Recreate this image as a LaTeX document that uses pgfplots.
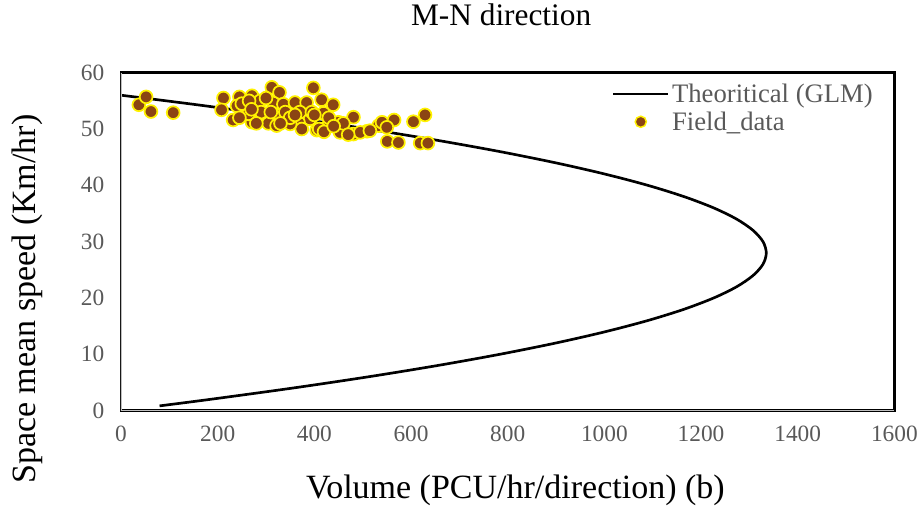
\documentclass[border=0pt]{standalone}
\usepackage{fontspec}
\setmainfont{Liberation Serif}
\usepackage{pgfplots}
\pgfplotsset{compat=1.18}
\definecolor{tickgray}{HTML}{595959}
\definecolor{brownpt}{HTML}{8B4513}
\begin{document}
\begin{tikzpicture}
\begin{axis}[
  scale only axis,
  width=580pt, height=253.5pt,
  xmin=0, xmax=1600, ymin=0, ymax=60,
  xtick={0,200,...,1600}, ytick={0,10,...,60},
  major tick length=0pt,
  /pgf/number format/assume math mode=true,
  /pgf/number format/1000 sep={},
  tick label style={font=\fontsize{17.5}{21}\selectfont, text=tickgray},
  xticklabel style={yshift=-8pt},
  yticklabel style={xshift=-9pt},
  axis line style={black, line width=2.2pt},
  title={M-N direction},
  title style={font=\fontsize{23.5}{27}\selectfont, at={(axis description cs:0.4916,1.148)}, anchor=center},
  xlabel={Volume (PCU/hr/direction) (b)},
  ylabel={Space mean speed (Km/hr)},
  xlabel style={font=\fontsize{25.5}{30}\selectfont, at={(axis description cs:0.51,-0.237)}, anchor=center},
  ylabel style={font=\fontsize{25.5}{30}\selectfont, at={(axis description cs:-0.1216,0.33)}, anchor=center},
  legend style={draw=none, fill=none, at={(axis description cs:0.633,0.98)}, anchor=north west,
    font=\fontsize{20}{22}\selectfont, text=tickgray, row sep=1.5pt,
    legend cell align=left, inner sep=1pt},
]
\addplot[black, line width=2pt, smooth,
  legend image code/.code={\draw[black, line width=2pt] (0pt,0pt) -- (41pt,0pt);}] coordinates {
(0,56) (93.7,55) (183.9,54) (354.2,52) (510.9,50) (653.9,48) (783.3,46)
(899.1,44) (1001.3,42) (1089.9,40) (1164.8,38) (1226.1,36) (1273.8,34)
(1307.8,32) (1328.3,30) (1335.1,28) (1328.3,26) (1307.8,24) (1273.8,22)
(1226.1,20) (1164.8,18) (1089.9,16) (1001.3,14) (899.1,12) (783.3,10)
(653.9,8) (510.9,6) (354.2,4) (183.9,2) (79.8,0.85)
};
\addlegendentry{Theoritical (GLM)}
\addplot[only marks, mark=*, mark size=4.8pt, mark options={fill=brownpt, draw=yellow, line width=1.3pt},
  legend image code/.code={\path[draw=none] (0pt,0pt) -- (41pt,0pt);
    \path[fill=brownpt, draw=yellow, line width=1.1pt] (20.5pt,0pt) circle (4.2pt);}] coordinates {
(37,54.3) (52,55.7) (62,53.1) (108,52.9)
(312,57.4) (328,56.5) (398,57.3) (212,55.5) (208,53.4) (232,51.6)
(245,55.7) (271,55.9) (257,53.7) (240,54.1) (288,55.0) (281,52.8)
(271,51.2) (302,52.4) (305,51.0) (315,54.6) (336,54.4) (329,52.4)
(322,50.6) (360,54.7) (384,54.7) (415,55.2) (439,54.3) (419,52.8)
(391,51.8) (367,51.2) (374,50.0) (405,49.8) (429,50.6) (450,51.2)
(453,49.4) (481,52.1) (481,49.1) (509,49.6) (495,49.4) (533,50.6)
(350,50.9) (264,52.7) (515,49.7) (540,51.2) (565,51.6) (550,50.3)
(551,47.8) (574,47.6) (605,51.3) (629,52.5) (619,47.5) (635,47.5)
(250,54.5) (265,55) (290,53) (300,55.5) (340,53) (350,52) (370,53)
(395,53) (400,52.5) (410,50) (430,52) (460,51) (470,49) (360,52.5)
(280,51) (245,52) (330,51) (420,49.5) (440,50.5) (270,53.5) (310,53)
};
\addlegendentry{Field\_data}
\draw[gray!50, line width=1.2pt] (rel axis cs:0,0) -- (rel axis cs:1,0);
\draw[gray!50, line width=1.2pt] (rel axis cs:0,0) -- (rel axis cs:0,1);
\end{axis}
\pgfresetboundingbox
\path (-90.75pt,-77pt) rectangle (602.25pt,308pt);
\end{tikzpicture}
\end{document}
